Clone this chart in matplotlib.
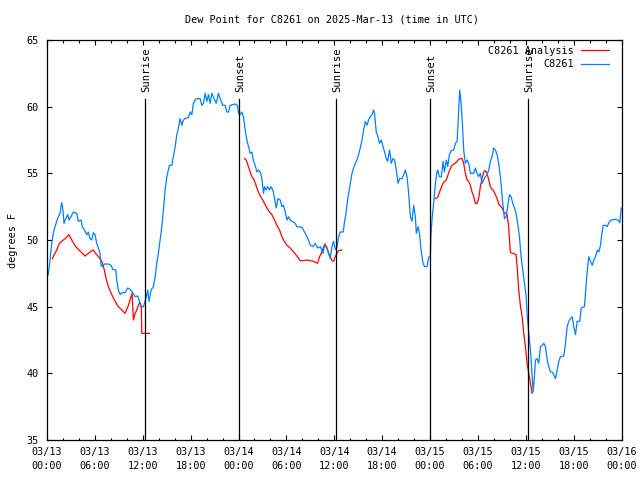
import numpy as np
import matplotlib
matplotlib.use("Agg")
import matplotlib.pyplot as plt

plt.rcParams['font.family'] = ['DejaVu Sans Mono']

# ---- data (hours since 03/13 00:00 UTC, degrees F) ----
obs_hours = [0.16, 0.38, 0.59, 0.79, 1.00, 1.22, 1.42, 1.63, 1.84, 1.97, 2.13, 2.35, 2.60, 2.76, 3.01, 3.30,
             3.73, 3.93, 4.27, 4.43, 4.68, 4.98, 5.18, 5.39, 5.61, 5.81, 6.02, 6.23, 6.44, 6.65, 6.77, 6.94,
             7.19, 7.69, 8.03, 8.24, 8.62, 8.74, 8.94, 9.16, 9.37, 9.78, 10.12, 10.41, 10.70, 11.04, 11.38,
             11.58, 11.79, 12.08, 12.29, 12.51, 12.63, 12.71, 12.79, 13.05, 13.33, 13.55, 13.76, 13.96, 14.17,
             14.39, 14.59, 14.80, 15.02, 15.34, 15.64, 15.84, 16.06, 16.27, 16.47, 16.68, 16.90, 17.10, 17.31,
             17.72, 17.94, 18.15, 18.35, 18.57, 18.78, 19.19, 19.41, 19.61, 19.82, 20.03, 20.23, 20.45, 20.66,
             20.95, 21.20, 21.49, 21.70, 22.04, 22.33, 22.54, 22.74, 22.96, 23.58, 23.87, 24.00, 24.21, 24.42,
             24.62, 24.84, 25.05, 25.25, 25.46, 25.68, 25.88, 26.09, 26.31, 26.51, 26.72, 26.93, 27.13, 27.26,
             27.47, 27.63, 27.89, 28.06, 28.31, 28.48, 28.73, 28.94, 29.23, 29.44, 29.64, 29.86, 30.07, 30.27,
             30.48, 30.70, 31.11, 31.32, 31.95, 32.36, 32.78, 32.99, 33.33, 33.62, 33.91, 34.25, 34.58, 34.78,
             35.09, 35.29, 35.50, 35.71, 35.91, 36.13, 36.34, 36.54, 36.75, 37.13, 37.26, 37.47, 37.67, 37.88,
             38.10, 38.22, 38.42, 38.64, 38.85, 39.05, 39.26, 39.48, 39.68, 39.89, 40.10, 40.30, 40.52, 40.73,
             40.93, 41.06, 41.27, 41.48, 41.68, 41.90, 42.11, 42.31, 42.52, 42.69, 42.94, 43.15, 43.36, 43.57,
             43.78, 43.99, 44.19, 44.49, 44.70, 44.91, 45.12, 45.32, 45.54, 45.75, 45.95, 46.16, 46.29, 46.50,
             46.70, 46.88, 47.13, 47.33, 47.63, 47.83, 48.04, 48.13, 48.26, 48.46, 48.67, 48.84, 48.96, 49.17,
             49.42, 49.64, 49.81, 50.05, 50.22, 50.43, 50.68, 50.97, 51.18, 51.40, 51.60, 51.72, 51.90, 52.06,
             52.22, 52.43, 52.65, 52.85, 53.06, 53.48, 53.69, 53.90, 54.10, 54.31, 54.52, 54.73, 54.94, 55.16,
             55.36, 55.57, 55.78, 55.98, 56.20, 56.41, 56.61, 56.82, 57.04, 57.16, 57.33, 57.54, 57.74, 57.95,
             58.17, 58.37, 58.58, 58.79, 58.99, 59.21, 59.42, 59.62, 59.84, 60.05, 60.17, 60.38, 60.59, 60.80,
             60.93, 61.09, 61.22, 61.43, 61.63, 61.84, 62.06, 62.26, 62.47, 62.69, 62.89, 63.10, 63.31, 63.51,
             63.72, 63.94, 64.14, 64.35, 64.77, 64.98, 65.19, 65.39, 65.61, 65.82, 66.02, 66.23, 66.45, 66.77,
             66.95, 67.36, 67.61, 67.78, 67.90, 68.11, 68.33, 68.53, 68.74, 68.96, 69.16, 69.37, 69.49, 69.71,
             70.00, 70.21, 70.41, 70.71, 71.25, 71.54, 71.79, 71.97]
obs_values = [47.4, 48.5, 49.75, 50.5, 51.0, 51.4, 51.75, 52.0, 52.8, 52.4, 51.25, 51.6, 51.9, 51.5, 51.75, 52.1,
              52.0, 51.4, 51.5, 51.0, 50.75, 50.4, 50.6, 50.1, 50.0, 50.55, 50.4, 49.75, 49.4, 49.0, 48.1, 48.0,
              48.2, 48.2, 48.1, 47.8, 47.75, 47.0, 46.25, 45.9, 46.05, 46.05, 46.4, 46.3, 46.1, 45.75, 45.8,
              45.4, 45.0, 45.0, 45.4, 45.9, 46.25, 45.75, 45.4, 46.25, 46.5, 47.25, 48.25, 49.0, 50.0,
              51.0, 52.25, 53.75, 54.75, 55.6, 55.6, 56.25, 57.0, 57.9, 58.4, 59.1, 58.6, 59.0, 59.1,
              59.2, 59.6, 59.4, 60.25, 60.5, 60.6, 60.6, 60.1, 60.25, 61.0, 60.4, 60.9, 60.25, 61.0,
              60.6, 60.25, 61.0, 60.6, 60.1, 60.1, 59.6, 59.6, 60.1, 60.2, 60.1, 59.5, 59.4, 59.6,
              59.25, 58.25, 57.5, 57.0, 56.5, 56.6, 55.9, 55.6, 55.1, 55.25, 55.1, 54.6, 53.5, 54.0,
              53.75, 54.0, 53.75, 54.0, 53.75, 53.25, 52.4, 53.1, 53.0, 52.5, 52.6, 52.1, 51.5, 51.75,
              51.5, 51.4, 51.25, 51.0, 50.95, 50.5, 50.0, 49.6, 49.5, 49.75, 49.4, 49.5, 49.0, 49.6,
              49.4, 49.0, 48.6, 49.5, 49.9, 49.3, 49.45, 50.2, 50.6, 50.6, 51.25, 52.0, 53.0, 53.75,
              54.5, 55.0, 55.4, 55.75, 56.0, 56.4, 56.9, 57.5, 58.25, 58.9, 58.6, 59.0, 59.25, 59.4,
              59.75, 59.4, 58.1, 57.75, 57.25, 57.5, 57.0, 56.6, 56.1, 55.9, 56.75, 55.75, 56.1, 56.0,
              55.25, 54.25, 54.6, 54.6, 54.9, 55.25, 54.75, 53.5, 51.75, 51.4, 52.6, 51.75, 50.5, 51.0,
              50.4, 49.25, 48.25, 48.0, 48.0, 48.7, 48.75, 50.5, 51.6, 52.8, 54.2, 55.0, 55.25, 54.75,
              54.75, 55.9, 55.1, 56.0, 55.5, 56.4, 56.7, 56.75, 57.25, 57.4, 59.75, 61.25, 60.25, 58.75,
              56.75, 55.75, 56.0, 55.75, 55.0, 55.0, 55.4, 55.0, 54.75, 55.0, 54.25, 54.5, 54.75, 54.9,
              55.25, 55.9, 56.25, 56.9, 56.75, 56.4, 55.75, 54.75, 53.25, 52.5, 51.6, 51.75, 52.5, 53.4,
              53.25, 52.75, 52.4, 52.0, 51.25, 50.25, 48.75, 47.75, 46.75, 45.75, 44.4, 43.0, 41.75, 39.75,
              38.6, 39.75, 41.0, 41.1, 40.75, 42.0, 42.1, 42.25, 42.0, 41.0, 40.5, 40.1, 40.1, 39.9,
              39.6, 40.25, 40.9, 41.25, 41.3, 42.25, 43.5, 43.9, 44.1, 44.25, 43.5, 42.9, 43.9, 43.9,
              44.9, 45.0, 47.0, 48.1, 48.75, 48.4, 48.1, 48.5, 48.75, 49.25, 49.1, 49.6, 50.25, 51.1,
              51.1, 51.0, 51.3, 51.5, 51.55, 51.5, 51.3, 52.4]

ana_hours = [0.66, 0.92, 1.22, 1.51, 1.84, 2.26, 2.76, 3.10, 3.60, 3.93, 4.35, 4.77, 5.18, 5.61, 5.81, 6.02,
             6.44, 6.86, 7.19, 7.40, 7.69, 8.12, 8.53, 8.94, 9.37, 9.78, 10.20, 10.54, 10.66, 10.83, 11.04,
             11.25, 11.45, 11.60, 11.70, 11.82, 11.88, 12.83,
             np.nan,
             24.75, 24.96, 25.25, 25.46, 25.68, 25.97, 26.31, 26.63, 26.93, 27.26, 27.56, 27.89, 28.19, 28.51,
             28.81, 29.14, 29.44, 29.73, 30.07, 30.48, 30.90, 31.32, 31.74, 32.15, 32.58, 32.99, 33.40, 33.91,
             34.16, 34.46, 34.66, 34.87, 35.09, 35.29, 35.50, 35.71, 35.91, 36.13, 36.34, 36.54, 36.94,
             np.nan,
             48.67, 48.96, 49.21, 49.42, 49.64, 49.84, 50.05, 50.26, 50.47, 50.68, 50.97, 51.18, 51.40, 51.60,
             51.81, 52.02, 52.22, 52.43, 52.65, 52.85, 53.06, 53.27, 53.48, 53.69, 53.90, 54.10, 54.31, 54.52,
             54.73, 54.94, 55.16, 55.36, 55.57, 55.78, 55.98, 56.20, 56.41, 56.61, 56.82, 57.04, 57.24, 57.45,
             57.66, 57.86, 57.99, 58.08, 58.42, 58.79, 58.92, 59.12, 59.34, 59.55, 59.75, 59.96, 60.17, 60.38,
             60.59, 60.80]
ana_values = [48.6, 48.9, 49.25, 49.7, 49.9, 50.1, 50.4, 50.0, 49.5, 49.3, 49.05, 48.8, 49.0, 49.2, 49.25, 49.05,
              48.75, 48.4, 47.75, 47.1, 46.5, 45.9, 45.4, 45.0, 44.75, 44.5, 45.1, 45.75, 46.0, 44.0, 44.5,
              44.75, 45.1, 45.3, 45.3, 44.9, 43.0, 43.0,
              np.nan,
              56.1, 56.0, 55.5, 55.1, 54.75, 54.5, 53.9, 53.4, 53.1, 52.75, 52.4, 52.1, 51.9, 51.5,
              51.1, 50.75, 50.25, 49.9, 49.6, 49.4, 49.1, 48.8, 48.45, 48.45, 48.5, 48.45, 48.4, 48.25,
              48.75, 49.1, 49.5, 49.7, 49.4, 49.0, 48.75, 48.45, 48.4, 48.75, 49.0, 49.2, 49.25,
              np.nan,
              53.1, 53.2, 53.6, 53.95, 54.25, 54.4, 54.5, 54.9, 55.25, 55.55, 55.7, 55.75, 55.9, 56.05,
              56.1, 56.1, 55.75, 55.0, 54.5, 54.4, 54.1, 53.6, 53.25, 52.75, 52.75, 53.1, 54.0, 54.6,
              55.1, 55.2, 55.0, 54.5, 54.0, 53.8, 53.7, 53.4, 53.1, 52.7, 52.55, 52.4, 52.1, 52.0,
              51.9, 51.0, 49.75, 49.05, 49.0, 48.9, 48.0, 46.25, 45.0, 44.25, 43.0, 42.0, 40.75, 40.0,
              39.25, 38.5]

sun_hours = [12.25, 24.05, 36.24, 48.0, 60.3]
sun_labels = ["Sunrise", "Sunset", "Sunrise", "Sunset", "Sunrise"]

tick_hours = [0, 6, 12, 18, 24, 30, 36, 42, 48, 54, 60, 66, 72]
tick_labels = ["03/13\n00:00", "03/13\n06:00", "03/13\n12:00", "03/13\n18:00",
               "03/14\n00:00", "03/14\n06:00", "03/14\n12:00", "03/14\n18:00",
               "03/15\n00:00", "03/15\n06:00", "03/15\n12:00", "03/15\n18:00",
               "03/16\n00:00"]
y_ticks = [35, 40, 45, 50, 55, 60, 65]

title = "Dew Point for C8261 on 2025-Mar-13 (time in UTC)"

FS = 7.3
fig = plt.figure(figsize=(6.4, 4.8), dpi=100)
ax = fig.add_axes([47/640, 1 - 440/480, 574.5/640, 400/480])

red, = ax.plot(ana_hours, ana_values, color='#ff0000', lw=0.9, label='C8261 Analysis')
blue, = ax.plot(obs_hours, obs_values, color='#0080ff', lw=0.9, label='C8261')

for h, lab in zip(sun_hours, sun_labels):
    ax.plot([h, h], [35, 60.6], color='black', lw=0.9)
    ax.text(h + 0.15, 61.1, lab, rotation=90, ha='center', va='bottom', fontsize=FS + 0.3)

ax.set_xlim(0, 72)
ax.set_ylim(35, 65)
ax.set_xticks(tick_hours)
ax.set_xticklabels(tick_labels, fontsize=FS, linespacing=1.45)
ax.set_xticks(np.arange(0, 73, 2), minor=True)
ax.set_yticks(y_ticks)
ax.set_yticklabels([str(v) for v in y_ticks], fontsize=FS)
ax.tick_params(which='major', direction='in', length=3.5, width=0.8, top=True, right=True, pad=5)
ax.tick_params(axis='y', which='major', pad=6)
ax.tick_params(which='minor', direction='in', length=1.8, width=0.8, top=True, right=False)
ax.tick_params(axis='y', which='minor', left=False, right=False)
for s in ax.spines.values():
    s.set_linewidth(0.9)

ax.set_ylabel("degrees F", fontsize=FS, labelpad=6)
fig.text(332/640, 1 - 20/480, title, ha='center', va='center', fontsize=FS)

leg = ax.legend(handles=[red, blue], loc='upper right', bbox_to_anchor=(1 - 10/574.5, 1 - 4/400),
                frameon=False, markerfirst=False,
                fontsize=FS, handlelength=2.8, handletextpad=0.7, labelspacing=0.3,
                borderaxespad=0.0, borderpad=0.2)

fig.savefig("out.png", dpi=100)
